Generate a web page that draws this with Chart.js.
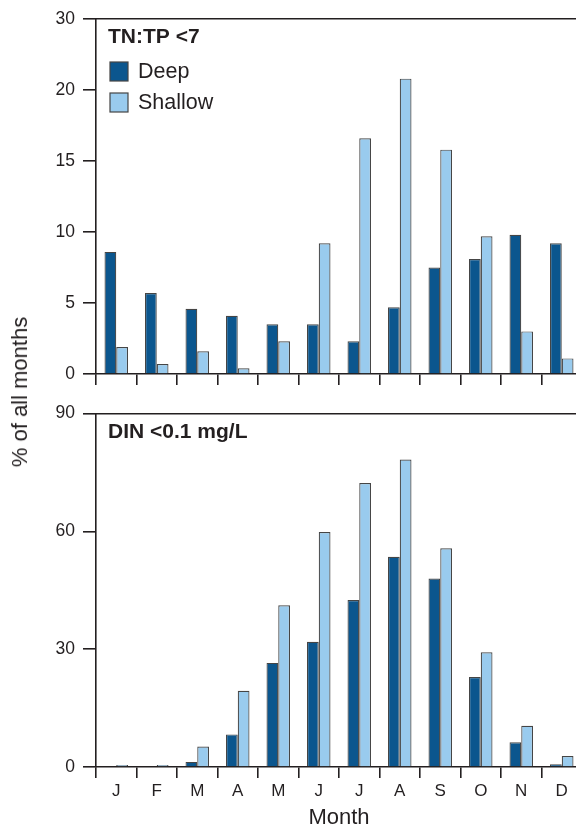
<!DOCTYPE html>
<html>
<head>
<meta charset="utf-8">
<script src="https://cdn.jsdelivr.net/npm/chart.js@4.4.1/dist/chart.umd.min.js"></script>
<style>
  html, body { margin: 0; padding: 0; background: #fff; }
  body { width: 576px; height: 827px; overflow: hidden; position: relative; font-family: "Liberation Sans", Arial, sans-serif; }
  #top, #bottom { position: absolute; left: 0; }
  #top { top: 0; }
  #bottom { top: 395px; }
  #ytitle {
    position: absolute; left: 20px; top: 392px;
    transform: translate(-50%, -50%) rotate(-90deg);
    white-space: nowrap; font-size: 22px; color: #231f20;
  }
</style>
</head>
<body>
<canvas id="top" width="600" height="395"></canvas>
<canvas id="bottom" width="600" height="440"></canvas>
<div id="ytitle">% of all months</div>
<script>
const months = ['J', 'F', 'M', 'A', 'M', 'J', 'J', 'A', 'S', 'O', 'N', 'D'];

// TN:TP < 7
const ratioDeep = [8.6, 5.7, 4.6, 4.1, 3.5, 3.5, 2.3, 4.7, 7.5, 8.1, 9.8, 9.2];
const ratioShallow = [1.9, 0.7, 1.6, 0.4, 2.3, 9.2, 16.6, 20.8, 15.8, 9.7, 3.0, 1.1];
const ratioTickLabels = ['0', '5', '10', '15', '20', '30'];

// DIN < 0.1 mg/L
const dinDeep = [0, 0, 1.3, 8.3, 26.5, 31.9, 42.5, 53.5, 48.0, 22.9, 6.3, 0.7];
const dinShallow = [0.5, 0.5, 5.2, 19.4, 41.2, 59.8, 72.3, 78.3, 55.7, 29.2, 10.5, 2.8];

const ink = '#231f20';
const deepColor = '#0b568e';
const shallowColor = '#99cbee';
const edge = '#454545';
const fontFamily = '"Liberation Sans", Arial, sans-serif';

// panel heading in the top-left corner, plus the optional key underneath it
const panelLabel = {
  id: 'panelLabel',
  afterDraw(chart, args, opts) {
    const { ctx, chartArea } = chart;
    const x = chartArea.left;
    const y = chartArea.top;
    ctx.save();
    ctx.fillStyle = ink;
    ctx.textBaseline = 'middle';
    ctx.textAlign = 'left';
    ctx.font = 'bold 21px ' + fontFamily;
    ctx.fillText(opts.text, x + 12, y + 18.5);
    if (opts.key) {
      ctx.font = '21.5px ' + fontFamily;
      chart.data.datasets.forEach((ds, i) => {
        const cy = y + 52.5 + i * 31;
        ctx.fillStyle = ds.backgroundColor;
        ctx.fillRect(x + 14, cy - 9.5, 18, 19);
        ctx.strokeStyle = edge;
        ctx.lineWidth = 1.2;
        ctx.strokeRect(x + 14, cy - 9.5, 18, 19);
        ctx.fillStyle = ink;
        ctx.fillText(ds.label, x + 42, cy + 1);
      });
    }
    ctx.restore();
  },
};

function bars(label, data, color) {
  return {
    label: label,
    data: data,
    backgroundColor: color,
    borderColor: edge,
    borderWidth: 1.2,
    categoryPercentage: 0.58,
    barPercentage: 1.0,
  };
}

function panel(canvasId, opts) {
  return new Chart(document.getElementById(canvasId), {
    type: 'bar',
    data: {
      labels: months,
      datasets: [
        bars('Deep', opts.deep, deepColor),
        bars('Shallow', opts.shallow, shallowColor),
      ],
    },
    plugins: [panelLabel],
    options: {
      responsive: false,
      animation: false,
      layout: { padding: { top: opts.padTop, right: 18, left: 0, bottom: 0 } },
      plugins: {
        tooltip: { enabled: false },
        legend: { display: false },
        panelLabel: { text: opts.title, key: opts.showKey },
      },
      scales: {
        x: {
          position: 'bottom',
          grid: { display: true, drawOnChartArea: false, tickLength: 11, color: ink, lineWidth: 1.6 },
          border: { display: true, color: ink, width: 1.6 },
          ticks: { display: opts.showMonths, color: ink, font: { family: fontFamily, size: 17 }, padding: 3 },
          title: {
            display: opts.showMonths,
            text: 'Month',
            color: ink,
            font: { family: fontFamily, size: 22 },
            padding: { top: 0, bottom: 4 },
          },
          afterFit: (scale) => { scale.height = opts.xHeight; },
        },
        xTop: {
          type: 'category',
          position: 'top',
          grid: { display: false },
          border: { display: true, color: ink, width: 1.6 },
          ticks: { display: false },
          afterFit: (scale) => { scale.height = 0; },
        },
        y: {
          min: 0,
          max: opts.max,
          grid: { display: true, drawOnChartArea: false, tickLength: 13, color: ink, lineWidth: 1.6 },
          border: { display: true, color: ink, width: 1.6 },
          ticks: {
            stepSize: opts.step,
            color: ink,
            padding: 8,
            font: { family: fontFamily, size: 17.5 },
            callback: opts.tickLabel,
          },
          afterFit: (scale) => { scale.width = 96; },
        },
      },
    },
  });
}

panel('top', {
  deep: ratioDeep,
  shallow: ratioShallow,
  title: 'TN:TP <7',
  showKey: true,
  showMonths: false,
  padTop: 19,
  xHeight: 21,
  max: 25,
  step: 5,
  tickLabel: (value, index) => ratioTickLabels[index],
});

panel('bottom', {
  deep: dinDeep,
  shallow: dinShallow,
  title: 'DIN <0.1 mg/L',
  showKey: false,
  showMonths: true,
  padTop: 17,
  xHeight: 68,
  max: 90,
  step: 30,
  tickLabel: (value) => value,
});
</script>
</body>
</html>
